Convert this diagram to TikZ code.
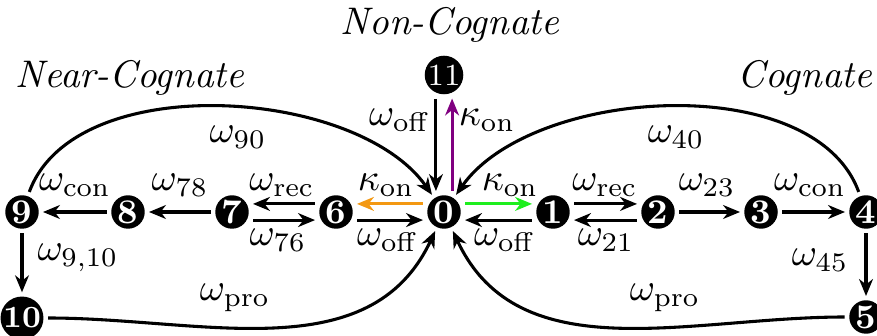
\documentclass[tikz,border=0pt]{standalone}
\usetikzlibrary{arrows.meta}
\definecolor{myorange}{RGB}{243,152,18}
\definecolor{mygreen}{RGB}{30,238,30}
\definecolor{mypurple}{RGB}{128,0,128}
\begin{document}
\begin{tikzpicture}[x=0.26pt,y=0.26pt,
  st/.style={circle,fill=black,text=white,inner sep=0pt,minimum size=8.7pt,
    font=\fontsize{9}{9}\selectfont\bfseries},
  ar/.style={line width=0.8pt,-{Stealth[length=4.4pt,width=3.6pt,inset=1.4pt]},
    shorten >=0.9pt, shorten <=1pt},
  lab/.style={inner sep=0pt},
  ttl/.style={font=\itshape, inner sep=0pt}]
\useasboundingbox (0,0) rectangle (877,336);
% nodes
\node[st] (n0) at (444,124) {0};
\node[st] (n1) at (553,124) {1};
\node[st] (n2) at (658,124) {2};
\node[st] (n3) at (761,124) {3};
\node[st] (n4) at (866,124) {4};
\node[st] (n5) at (866,19) {5};
\node[st] (n6) at (336,124) {6};
\node[st] (n7) at (232,124) {7};
\node[st] (n8) at (128,124) {8};
\node[st] (n9) at (22,124) {9};
\node[st] (n10) at (22,18) {\fontsize{8}{8}\selectfont 10};
\node[st] (n11) at (444,261) {\fontsize{8}{8}\selectfont\mdseries 11};
% titles
\node[ttl] (tnon) at (450,311) {Non-Cognate};
\node[ttl] (tnear) at (130,258) {Near-Cognate};
\node[ttl] (tcog) at (805,258) {Cognate};
% right chain
\draw[ar,mygreen] ([yshift=2.1pt]n0.east) -- ([yshift=2.1pt]n1.west);
\draw[ar] ([yshift=-2.1pt]n1.west) -- ([yshift=-2.1pt]n0.east);
\draw[ar] ([yshift=2.1pt]n1.east) -- ([yshift=2.1pt]n2.west);
\draw[ar] ([yshift=-2.1pt]n2.west) -- ([yshift=-2.1pt]n1.east);
\draw[ar] (n2) -- (n3);
\draw[ar] (n3) -- (n4);
\draw[ar] (n4) -- (n5);
\draw[ar] (n4.110) to[out=110,in=55,looseness=0.85] (n0.55);
\draw[ar] (n5.west) to[out=180,in=295,looseness=1] (n0.295);
% left chain
\draw[ar,myorange] ([yshift=2.1pt]n0.west) -- ([yshift=2.1pt]n6.east);
\draw[ar] ([yshift=-2.1pt]n6.east) -- ([yshift=-2.1pt]n0.west);
\draw[ar] ([yshift=2.1pt]n6.west) -- ([yshift=2.1pt]n7.east);
\draw[ar] ([yshift=-2.1pt]n7.east) -- ([yshift=-2.1pt]n6.west);
\draw[ar] (n7) -- (n8);
\draw[ar] (n8) -- (n9);
\draw[ar] (n9) -- (n10);
\draw[ar] (n9.70) to[out=70,in=125,looseness=0.85] (n0.125);
\draw[ar] (n10.east) to[out=0,in=245,looseness=1] (n0.245);
% top
\draw[ar] ([xshift=-2.1pt]n11.south) -- ([xshift=-2.1pt]n0.north);
\draw[ar,mypurple] ([xshift=2.1pt]n0.north) -- ([xshift=2.1pt]n11.south);
% labels
\node[lab] (l1) at (400,216) {$\omega_{\mathrm{off}}$};
\node[lab] (l2) at (487,216) {$\kappa_{\mathrm{on}}$};
\node[lab] (l3) at (238,199) {$\omega_{90}$};
\node[lab] (l4) at (676,199) {$\omega_{40}$};
\node[lab] (l5) at (75,151) {$\omega_{\mathrm{con}}$};
\node[lab] (l6) at (180,151) {$\omega_{78}$};
\node[lab] (l7) at (282,151) {$\omega_{\mathrm{rec}}$};
\node[lab] (l8) at (386,151) {$\kappa_{\mathrm{on}}$};
\node[lab] (l9) at (510,151) {$\kappa_{\mathrm{on}}$};
\node[lab] (l10) at (605,151) {$\omega_{\mathrm{rec}}$};
\node[lab] (l11) at (707,151) {$\omega_{23}$};
\node[lab] (l12) at (810,151) {$\omega_{\mathrm{con}}$};
\node[lab] (l13) at (278,96) {$\omega_{76}$};
\node[lab] (l14) at (388,96) {$\omega_{\mathrm{off}}$};
\node[lab] (l15) at (505,96) {$\omega_{\mathrm{off}}$};
\node[lab] (l16) at (606,96) {$\omega_{21}$};
\node[lab] (l17) at (78,78) {$\omega_{9,10}$};
\node[lab] (l18) at (820,76) {$\omega_{45}$};
\node[lab] (l19) at (235,38) {$\omega_{\mathrm{pro}}$};
\node[lab] (l20) at (665,38) {$\omega_{\mathrm{pro}}$};
\end{tikzpicture}
\end{document}
